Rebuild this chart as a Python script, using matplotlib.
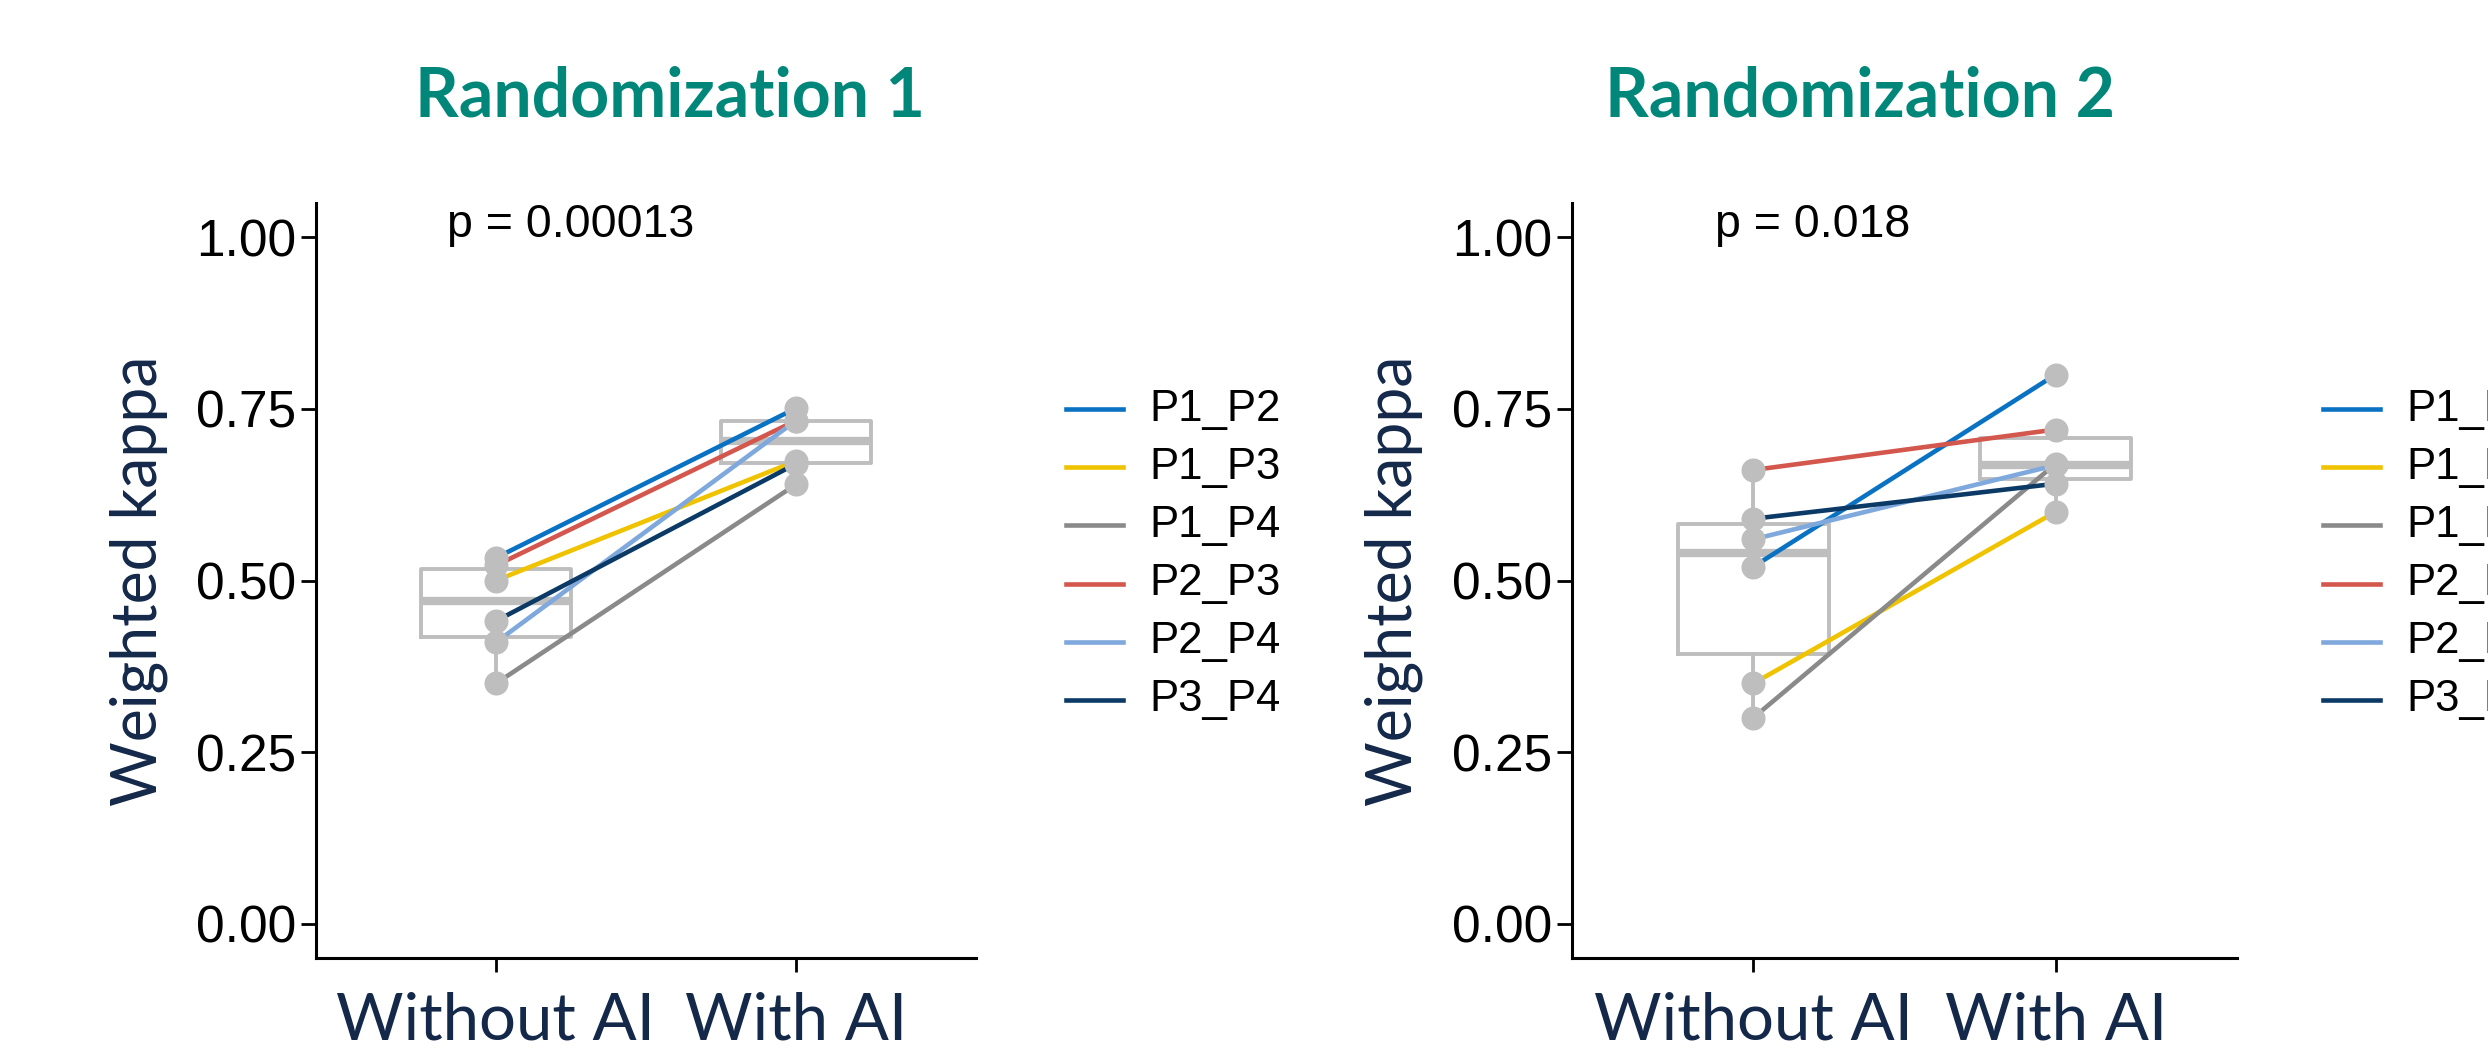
import matplotlib.pyplot as plt
from matplotlib.lines import Line2D
import numpy as np

# rater pairs and their colours
pairs = ["P1_P2", "P1_P3", "P1_P4", "P2_P3", "P2_P4", "P3_P4"]
pair_colors = ["#0A72C2", "#F0C300", "#8A8A8A", "#D3574D", "#7FA8DD", "#0C3A66"]

conditions = ["Without AI", "With AI"]

# weighted kappa per pair, randomization 1
r1_without = [0.533, 0.500, 0.350, 0.522, 0.410, 0.441]
r1_with = [0.751, 0.674, 0.640, 0.733, 0.733, 0.670]

# weighted kappa per pair, randomization 2
r2_without = [0.520, 0.350, 0.300, 0.661, 0.560, 0.590]
r2_with = [0.800, 0.600, 0.670, 0.720, 0.668, 0.641]

panels = [
    ("Randomization 1", r1_without, r1_with, "p = 0.00013"),
    ("Randomization 2", r2_without, r2_with, "p = 0.018"),
]

W, H = 2488, 1054
fig = plt.figure(figsize=(W / 100, H / 100), dpi=100)

box_grey = "#BEBEBE"
navy = "#14284A"
teal = "#00877A"

ax_left = [316, 1572]
ax_right = [976, 2237]
ax_top, ax_bot = 203, 958
title_x = [670, 1860]
p_x = [0.838, 0.874]
legend_x = [1066, 2323]

for k, (title, without, with_ai, ptext) in enumerate(panels):
    ax = fig.add_axes([ax_left[k] / W, 1 - ax_bot / H,
                       (ax_right[k] - ax_left[k]) / W, (ax_bot - ax_top) / H])

    ax.boxplot([without, with_ai], positions=[1, 2], widths=0.5, whis=1.5,
               showfliers=False,
               boxprops=dict(color=box_grey, lw=2.8),
               whiskerprops=dict(color=box_grey, lw=2.8),
               capprops=dict(lw=0),
               medianprops=dict(color=box_grey, lw=6, solid_capstyle="butt"),
               zorder=1)

    for name, c, a, b in zip(pairs, pair_colors, without, with_ai):
        ax.plot([1, 2], [a, b], color=c, lw=3.3, zorder=3, label=name)

    ax.scatter(np.ones(len(without)), without, s=300, color=box_grey, zorder=4, lw=0)
    ax.scatter(np.full(len(with_ai), 2), with_ai, s=300, color=box_grey, zorder=4, lw=0)

    ax.set_xlim(0.4, 2.6)
    ax.set_ylim(-0.05, 1.05)
    ax.set_xticks([1, 2])
    ax.set_xticklabels(conditions, fontsize=47, color=navy, family="Lato")
    ax.set_yticks([0, 0.25, 0.5, 0.75, 1.0])
    ax.set_yticklabels(["0.00", "0.25", "0.50", "0.75", "1.00"],
                       fontsize=37, family="Liberation Sans", color="black")
    ax.tick_params(axis="y", length=11, width=2, pad=3)
    ax.tick_params(axis="x", length=10, width=2, pad=14)
    for s in ["top", "right"]:
        ax.spines[s].set_visible(False)
    for s in ["left", "bottom"]:
        ax.spines[s].set_linewidth(2.2)

    ax.set_ylabel("Weighted kappa", fontsize=45, color=navy, family="Lato")
    ax.yaxis.set_label_coords(-0.224, 0.5)

    ax.text(p_x[k], 1.0, ptext, fontsize=33.5, family="Liberation Sans",
            ha="left", va="baseline")

    fig.text(title_x[k] / W, 1 - 97 / H, title, fontsize=49, fontweight="bold",
             family="Lato", color=teal, ha="center", va="center")

    # legend drawn by hand so it can run past the right edge, as in the original
    x0 = legend_x[k]
    for i, (name, c) in enumerate(zip(pairs, pair_colors)):
        y = 1 - (409 + i * 58.2) / H
        fig.add_artist(Line2D([x0 / W, (x0 + 57) / W], [y, y], color=c, lw=3.3,
                              transform=fig.transFigure))
        fig.text((x0 + 83) / W, y, name, fontsize=31.5, family="Liberation Sans",
                 va="center", ha="left")

fig.savefig("out.png", dpi=100)
